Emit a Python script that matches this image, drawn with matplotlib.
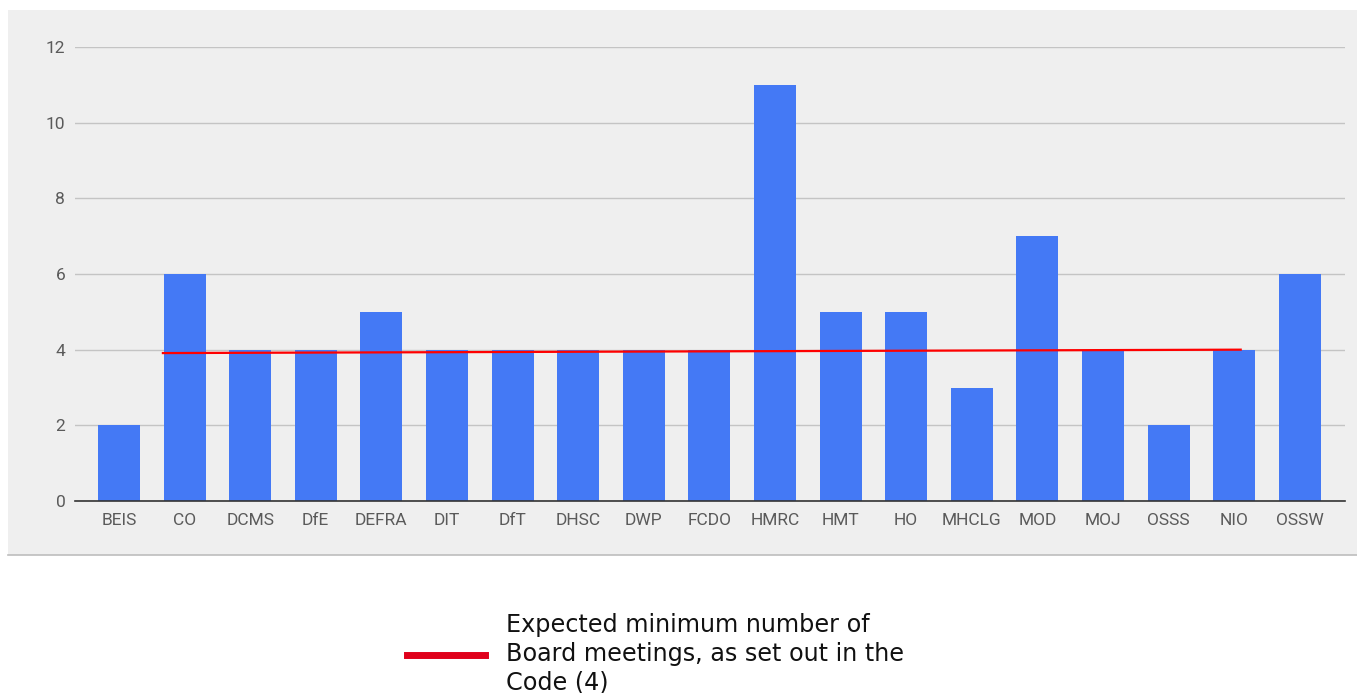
import matplotlib
matplotlib.use("Agg")
import matplotlib.pyplot as plt
from matplotlib.patches import Rectangle
from matplotlib.lines import Line2D

departments = ["BEIS", "CO", "DCMS", "DfE", "DEFRA", "DIT", "DfT", "DHSC", "DWP", "FCDO",
               "HMRC", "HMT", "HO", "MHCLG", "MOD", "MOJ", "OSSS", "NIO", "OSSW"]
meetings = [2, 6, 4, 4, 5, 4, 4, 4, 4, 4, 11, 5, 5, 3, 7, 4, 2, 4, 6]
threshold_x = [0.67, 17.1]
threshold_y = [3.91, 4.0]
yticks = [0, 2, 4, 6, 8, 10, 12]
legend_label = "Expected minimum number of\nBoard meetings, as set out in the\nCode (4)"

W, H = 1357, 693
fig = plt.figure(figsize=(W / 100, H / 100), dpi=100)
fig.patch.set_facecolor("white")

# gray panel
panel = Rectangle((8 / W, 1 - 555 / H), 1 - 8 / W, (555 - 10) / H,
                  transform=fig.transFigure, facecolor="#efefef", edgecolor="none", zorder=-10)
fig.patches.append(panel)
fig.add_artist(Line2D([8 / W, 1], [1 - 555 / H, 1 - 555 / H], transform=fig.transFigure,
                      color="#bdbdbd", lw=1.2, zorder=-9))

ax = fig.add_axes([75 / W, 1 - 501 / H, (1345 - 75) / W, (501 - 47) / H])
ax.patch.set_alpha(0)

x = list(range(len(departments)))
ax.bar(x, meetings, width=0.64, color="#4479f5", zorder=2)
ax.plot(threshold_x, threshold_y, color="#ff0000", lw=1.6, zorder=3)

ax.set_xlim(-0.67, 18.69)
ax.set_ylim(0, 12)
ax.set_yticks(yticks)
ax.set_xticks(x)
ax.set_xticklabels(departments)
ax.grid(axis="y", color="#c4c4c4", lw=1, zorder=1)
ax.set_axisbelow(True)
for s in ["top", "right", "left"]:
    ax.spines[s].set_visible(False)
ax.spines["bottom"].set_color("#333333")
ax.spines["bottom"].set_linewidth(1.2)
ax.spines["bottom"].set_zorder(4)
ax.tick_params(axis="both", length=0, colors="#5a5a5a", labelsize=12.5)
ax.tick_params(axis="x", pad=8.5)
ax.tick_params(axis="y", pad=7)
for lbl in ax.get_xticklabels() + ax.get_yticklabels():
    lbl.set_fontfamily("Roboto")

handle = Line2D([], [], color="#e0001b", lw=5)
leg = fig.legend([handle], [legend_label], loc="center left",
                 bbox_to_anchor=(385 / W, 1 - 654 / H), frameon=False,
                 handlelength=3.3, handletextpad=0.85,
                 prop={"family": "DejaVu Sans", "size": 17.2})
for t in leg.get_texts():
    t.set_linespacing(1.26)
    t.set_color("#111111")

fig.savefig("out.png", dpi=100)
